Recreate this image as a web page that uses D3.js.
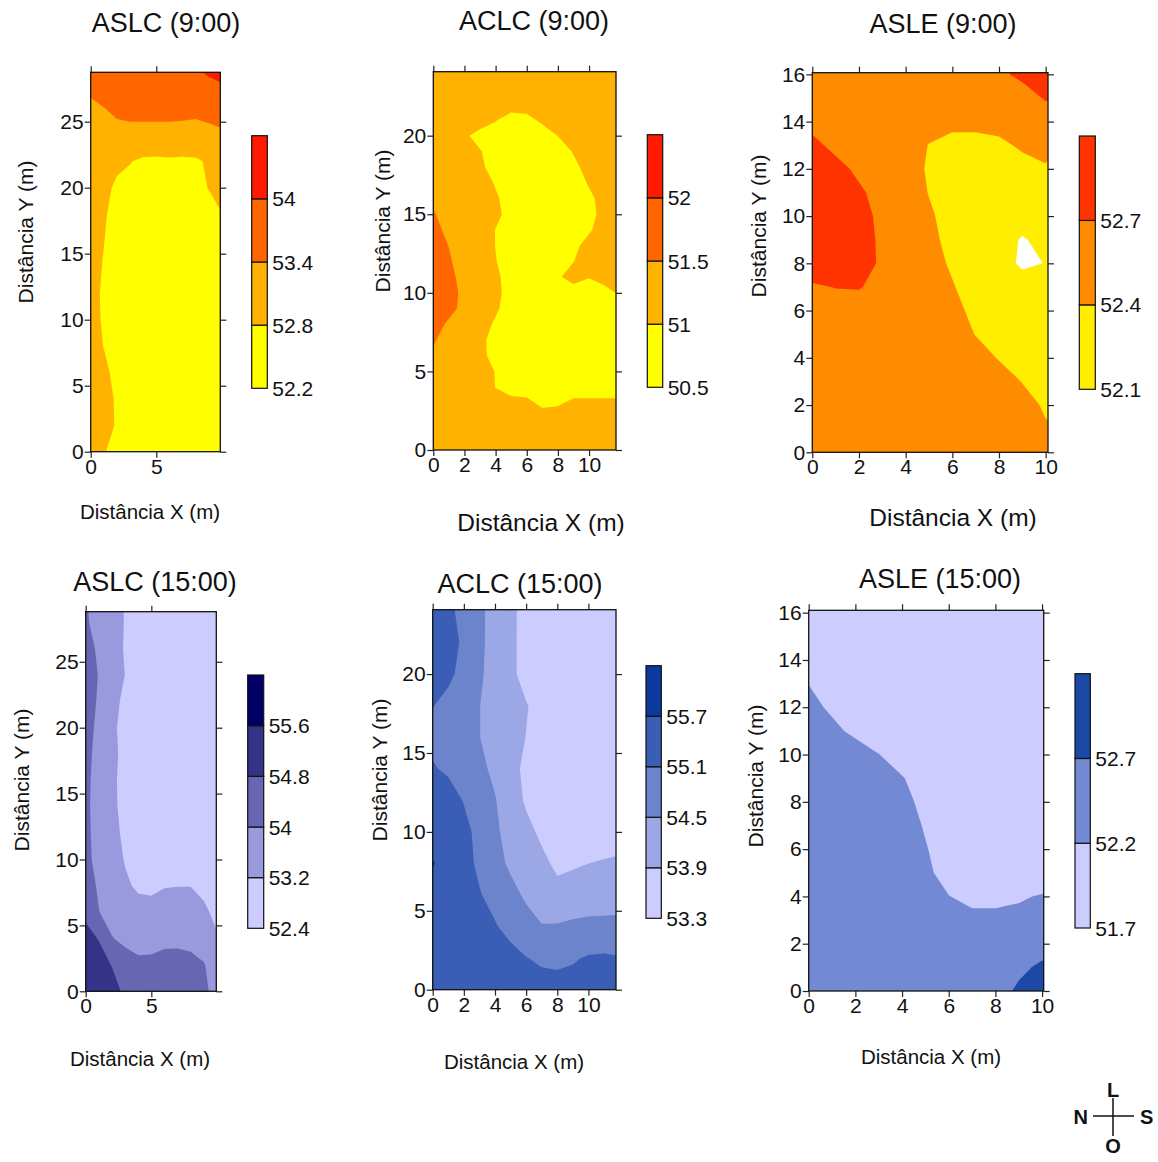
<!DOCTYPE html>
<html>
<head>
<meta charset="utf-8">
<script src="https://cdn.jsdelivr.net/npm/d3@7"></script>
<style>
  body { margin: 0; background: #fff; }
  text { font-family: "Liberation Sans", Arial, sans-serif; fill: #111; }
</style>
</head>
<body>
<div id="chart"></div>
<script>
// ---------- data (grid values) ----------

// ASLC 9:00  (rows = y, cols = x)
var aslc9X = [0, 1, 2, 3, 4, 5, 6, 7, 8, 9, 10];
var aslc9Y = [0, 2, 4, 6, 8, 10, 12, 14, 16, 18, 20, 22, 24, 26, 28, 30];
var aslc9Z = [
  [53.00, 52.83, 52.65, 52.55, 52.50, 52.48, 52.48, 52.50, 52.52, 52.55, 52.58],
  [53.10, 52.96, 52.76, 52.62, 52.55, 52.50, 52.50, 52.50, 52.52, 52.55, 52.58],
  [53.10, 52.95, 52.75, 52.62, 52.55, 52.50, 52.48, 52.48, 52.50, 52.55, 52.58],
  [53.05, 52.89, 52.69, 52.58, 52.52, 52.48, 52.46, 52.46, 52.50, 52.55, 52.60],
  [52.98, 52.79, 52.62, 52.55, 52.50, 52.46, 52.45, 52.46, 52.50, 52.55, 52.60],
  [52.95, 52.75, 52.60, 52.52, 52.48, 52.45, 52.45, 52.46, 52.50, 52.55, 52.62],
  [52.94, 52.74, 52.60, 52.52, 52.48, 52.45, 52.45, 52.46, 52.50, 52.56, 52.64],
  [52.97, 52.77, 52.62, 52.54, 52.50, 52.47, 52.46, 52.48, 52.52, 52.58, 52.66],
  [53.00, 52.81, 52.61, 52.56, 52.52, 52.50, 52.48, 52.50, 52.55, 52.62, 52.72],
  [53.05, 52.85, 52.65, 52.60, 52.56, 52.54, 52.52, 52.55, 52.60, 52.70, 52.79],
  [53.10, 52.92, 52.72, 52.66, 52.62, 52.60, 52.60, 52.64, 52.72, 52.81, 52.95],
  [53.10, 53.00, 52.90, 52.82, 52.72, 52.70, 52.72, 52.71, 52.73, 52.86, 53.05],
  [53.15, 53.20, 53.28, 53.25, 53.25, 53.25, 53.27, 53.24, 53.22, 53.28, 53.33],
  [53.30, 53.39, 53.48, 53.55, 53.55, 53.55, 53.53, 53.54, 53.52, 53.55, 53.60],
  [53.55, 53.60, 53.65, 53.70, 53.70, 53.70, 53.70, 53.70, 53.75, 53.90, 54.02],
  [53.70, 53.75, 53.80, 53.85, 53.85, 53.85, 53.85, 53.90, 54.20, 54.40, 54.30]
];
var aslc9Levels = [52.2, 52.8, 53.4, 54];
var aslc9XTicks = [0, 5];
var aslc9YTicks = [0, 5, 10, 15, 20, 25];

// ACLC 9:00
var aclc9X = [0, 1, 2, 3, 4, 5, 6, 7, 8, 9, 10, 11, 12];
var aclc9Y = [0, 1, 2, 3, 4, 5, 6, 7, 8, 9, 10, 11, 12, 13, 14, 15, 16, 17, 18, 19, 20, 21, 22, 23, 24];
var aclc9Z = [
  [51.30, 51.25, 51.25, 51.25, 51.25, 51.25, 51.25, 51.25, 51.25, 51.25, 51.25, 51.25, 51.25],
  [51.30, 51.25, 51.25, 51.25, 51.25, 51.25, 51.25, 51.25, 51.25, 51.25, 51.25, 51.25, 51.25],
  [51.30, 51.25, 51.25, 51.25, 51.25, 51.25, 51.25, 51.25, 51.25, 51.25, 51.25, 51.25, 51.25],
  [51.30, 51.25, 51.25, 51.25, 51.15, 51.15, 51.13, 50.88, 50.93, 51.10, 51.10, 51.10, 51.10],
  [51.35, 51.25, 51.25, 51.24, 50.99, 50.80, 50.75, 50.75, 50.75, 50.75, 50.75, 50.75, 50.75],
  [51.35, 51.25, 51.25, 51.25, 50.98, 50.75, 50.75, 50.75, 50.75, 50.75, 50.75, 50.75, 50.75],
  [51.40, 51.25, 51.25, 51.11, 50.86, 50.75, 50.75, 50.75, 50.75, 50.75, 50.75, 50.75, 50.75],
  [51.55, 51.30, 51.25, 51.10, 50.85, 50.75, 50.75, 50.75, 50.75, 50.75, 50.75, 50.75, 50.75],
  [51.68, 51.43, 51.25, 51.19, 50.94, 50.75, 50.75, 50.75, 50.75, 50.75, 50.75, 50.75, 50.75],
  [51.88, 51.63, 51.38, 51.25, 51.06, 50.81, 50.75, 50.75, 50.75, 50.75, 50.75, 50.75, 50.75],
  [52.02, 51.65, 51.40, 51.25, 51.10, 50.85, 50.75, 50.75, 50.75, 50.75, 50.75, 50.83, 51.08],
  [51.86, 51.61, 51.36, 51.25, 51.08, 50.83, 50.75, 50.75, 50.94, 51.19, 51.02, 51.20, 51.25],
  [51.80, 51.55, 51.30, 51.25, 51.02, 50.77, 50.75, 50.75, 50.75, 50.99, 51.25, 51.25, 51.25],
  [51.74, 51.49, 51.25, 51.25, 50.99, 50.75, 50.75, 50.75, 50.75, 50.90, 51.15, 51.25, 51.25],
  [51.64, 51.39, 51.25, 51.24, 50.99, 50.75, 50.75, 50.75, 50.75, 50.75, 50.95, 51.20, 51.25],
  [51.54, 51.29, 51.25, 51.25, 51.10, 50.85, 50.75, 50.75, 50.75, 50.75, 50.88, 51.13, 51.25],
  [51.42, 51.27, 51.25, 51.25, 51.06, 50.81, 50.75, 50.75, 50.75, 50.75, 50.91, 51.16, 51.25],
  [51.30, 51.25, 51.25, 51.21, 50.96, 50.75, 50.75, 50.75, 50.75, 50.79, 51.04, 51.25, 51.25],
  [51.30, 51.25, 51.25, 51.08, 50.83, 50.75, 50.75, 50.75, 50.75, 50.90, 51.15, 51.25, 51.25],
  [51.30, 51.25, 51.25, 51.03, 50.78, 50.75, 50.75, 50.75, 50.78, 51.03, 51.25, 51.25, 51.25],
  [51.30, 51.25, 51.08, 50.83, 50.75, 50.75, 50.75, 50.76, 51.01, 51.25, 51.25, 51.25, 51.25],
  [51.30, 51.25, 51.25, 51.25, 51.03, 50.78, 50.85, 51.10, 51.25, 51.25, 51.25, 51.25, 51.25],
  [51.30, 51.25, 51.25, 51.25, 51.25, 51.25, 51.25, 51.25, 51.25, 51.25, 51.25, 51.25, 51.25],
  [51.30, 51.25, 51.25, 51.25, 51.25, 51.25, 51.25, 51.25, 51.25, 51.25, 51.25, 51.25, 51.25],
  [51.30, 51.25, 51.25, 51.25, 51.25, 51.25, 51.25, 51.25, 51.25, 51.25, 51.25, 51.25, 51.25]
];
var aclc9Levels = [50.5, 51, 51.5, 52];
var aclc9XTicks = [0, 2, 4, 6, 8, 10];
var aclc9YTicks = [0, 5, 10, 15, 20];

// ASLE 9:00
var asle9X = [0, 1, 2, 3, 4, 5, 6, 7, 8, 9, 10];
var asle9Y = [0, 1, 2, 3, 4, 5, 6, 7, 8, 9, 10, 11, 12, 13, 14, 15, 16];
var asle9Z = [
  [52.55, 52.55, 52.55, 52.55, 52.55, 52.55, 52.55, 52.55, 52.55, 52.55, 52.50],
  [52.55, 52.55, 52.55, 52.55, 52.55, 52.55, 52.55, 52.55, 52.55, 52.52, 52.43],
  [52.55, 52.55, 52.55, 52.55, 52.55, 52.55, 52.55, 52.55, 52.55, 52.51, 52.36],
  [52.55, 52.55, 52.55, 52.55, 52.55, 52.55, 52.55, 52.55, 52.54, 52.39, 52.25],
  [52.55, 52.55, 52.55, 52.55, 52.55, 52.55, 52.55, 52.53, 52.38, 52.25, 52.25],
  [52.55, 52.55, 52.55, 52.55, 52.55, 52.55, 52.55, 52.39, 52.25, 52.25, 52.25],
  [52.55, 52.55, 52.55, 52.55, 52.55, 52.55, 52.48, 52.33, 52.25, 52.25, 52.25],
  [52.66, 52.71, 52.72, 52.60, 52.55, 52.55, 52.42, 52.27, 52.25, 52.30, 52.25],
  [52.90, 52.90, 52.81, 52.66, 52.55, 52.51, 52.36, 52.25, 52.28, 52.03, 52.11],
  [52.90, 52.90, 52.84, 52.64, 52.55, 52.47, 52.32, 52.25, 52.25, 52.07, 52.20],
  [52.90, 52.90, 52.82, 52.62, 52.55, 52.44, 52.29, 52.25, 52.25, 52.25, 52.25],
  [52.90, 52.90, 52.76, 52.56, 52.55, 52.39, 52.25, 52.25, 52.25, 52.25, 52.25],
  [52.90, 52.82, 52.62, 52.55, 52.52, 52.37, 52.25, 52.25, 52.25, 52.28, 52.37],
  [52.80, 52.60, 52.55, 52.55, 52.55, 52.39, 52.28, 52.28, 52.33, 52.45, 52.50],
  [52.58, 52.55, 52.55, 52.55, 52.55, 52.52, 52.50, 52.50, 52.52, 52.55, 52.58],
  [52.55, 52.55, 52.55, 52.55, 52.55, 52.55, 52.55, 52.55, 52.55, 52.60, 52.72],
  [52.55, 52.55, 52.55, 52.55, 52.55, 52.55, 52.55, 52.55, 52.66, 52.75, 52.85]
];
var asle9Levels = [52.1, 52.4, 52.7];
var asle9XTicks = [0, 2, 4, 6, 8, 10];
var asle9YTicks = [0, 2, 4, 6, 8, 10, 12, 14, 16];

// ASLC 15:00
var aslc15X = [0, 1, 2, 3, 4, 5, 6, 7, 8, 9, 10];
var aslc15Y = [0, 2, 4, 6, 8, 10, 12, 14, 16, 18, 20, 22, 24, 26, 28, 30];
var aslc15Z = [
  [55.30, 55.20, 55.00, 54.70, 54.60, 54.60, 54.60, 54.60, 54.50, 54.15, 53.75],
  [55.10, 55.00, 54.78, 54.40, 54.20, 54.20, 54.30, 54.30, 54.20, 54.05, 53.60],
  [54.95, 54.78, 54.04, 53.80, 53.65, 53.70, 53.80, 53.82, 53.80, 53.60, 53.28],
  [54.70, 54.02, 53.70, 53.50, 53.45, 53.45, 53.50, 53.50, 53.50, 53.35, 53.00],
  [54.35, 53.90, 53.55, 53.30, 53.10, 53.05, 53.17, 53.19, 53.19, 53.00, 52.80],
  [54.15, 53.82, 53.49, 53.16, 52.82, 52.80, 52.80, 52.80, 52.80, 52.80, 52.80],
  [54.14, 53.78, 53.42, 53.06, 52.80, 52.80, 52.80, 52.80, 52.80, 52.80, 52.80],
  [54.13, 53.74, 53.36, 52.98, 52.80, 52.80, 52.80, 52.80, 52.80, 52.80, 52.80],
  [54.15, 53.75, 53.35, 52.95, 52.80, 52.80, 52.80, 52.80, 52.80, 52.80, 52.80],
  [54.19, 53.79, 53.39, 52.99, 52.80, 52.80, 52.80, 52.80, 52.80, 52.80, 52.80],
  [54.28, 53.83, 53.37, 52.92, 52.80, 52.80, 52.80, 52.80, 52.80, 52.80, 52.80],
  [54.36, 53.91, 53.47, 53.02, 52.80, 52.80, 52.80, 52.80, 52.80, 52.80, 52.80],
  [54.36, 53.97, 53.58, 53.19, 52.80, 52.80, 52.80, 52.80, 52.80, 52.80, 52.80],
  [54.26, 53.89, 53.52, 53.14, 52.80, 52.80, 52.80, 52.80, 52.80, 52.80, 52.80],
  [54.08, 53.77, 53.47, 53.17, 52.87, 52.80, 52.80, 52.80, 52.80, 52.80, 52.80],
  [54.04, 53.75, 53.46, 53.17, 52.88, 52.80, 52.80, 52.80, 52.80, 52.80, 52.80]
];
var aslc15Levels = [52.4, 53.2, 54, 54.8, 55.6];
var aslc15XTicks = [0, 5];
var aslc15YTicks = [0, 5, 10, 15, 20, 25];

// ACLC 15:00
var aclc15X = [0, 1, 2, 3, 4, 5, 6, 7, 8, 9, 10, 11, 12];
var aclc15Y = [0, 2, 4, 6, 8, 10, 12, 14, 16, 18, 20, 22, 24];
var aclc15Z = [
  [55.50, 55.50, 55.50, 55.50, 55.45, 55.40, 55.40, 55.35, 55.35, 55.30, 55.30, 55.30, 55.30],
  [55.50, 55.50, 55.50, 55.45, 55.40, 55.30, 55.12, 55.00, 54.95, 55.05, 55.15, 55.18, 55.13],
  [55.50, 55.50, 55.45, 55.30, 55.15, 54.90, 54.70, 54.53, 54.55, 54.62, 54.64, 54.63, 54.63],
  [55.40, 55.40, 55.37, 55.14, 54.90, 54.66, 54.42, 54.20, 54.05, 54.10, 54.20, 54.25, 54.28],
  [55.75, 55.40, 55.30, 54.99, 54.68, 54.41, 54.21, 54.02, 53.80, 53.85, 53.90, 53.95, 54.00],
  [55.40, 55.40, 55.27, 54.93, 54.59, 54.31, 54.05, 53.80, 53.60, 53.60, 53.60, 53.60, 53.60],
  [55.50, 55.35, 55.07, 54.80, 54.53, 54.18, 53.83, 53.60, 53.60, 53.60, 53.60, 53.60, 53.60],
  [55.15, 55.01, 54.81, 54.62, 54.39, 54.08, 53.78, 53.60, 53.60, 53.60, 53.60, 53.60, 53.60],
  [54.95, 54.80, 54.66, 54.51, 54.31, 54.11, 53.89, 53.69, 53.60, 53.60, 53.60, 53.60, 53.60],
  [55.12, 54.92, 54.72, 54.51, 54.31, 54.12, 53.93, 53.73, 53.60, 53.60, 53.60, 53.60, 53.60],
  [55.55, 55.23, 54.91, 54.58, 54.29, 54.01, 53.73, 53.60, 53.60, 53.60, 53.60, 53.60, 53.60],
  [55.50, 55.36, 54.99, 54.61, 54.30, 54.01, 53.73, 53.60, 53.60, 53.60, 53.60, 53.60, 53.60],
  [55.54, 55.23, 54.92, 54.61, 54.31, 54.02, 53.72, 53.60, 53.60, 53.60, 53.60, 53.60, 53.60]
];
var aclc15Levels = [53.3, 53.9, 54.5, 55.1, 55.7];
var aclc15XTicks = [0, 2, 4, 6, 8, 10];
var aclc15YTicks = [0, 5, 10, 15, 20];

// ASLE 15:00
var asle15X = [0, 1, 2, 3, 4, 5, 6, 7, 8, 9, 10];
var asle15Y = [0, 1, 2, 3, 4, 5, 6, 7, 8, 9, 10, 11, 12, 13, 14, 15, 16];
var asle15Z = [
  [52.45, 52.45, 52.45, 52.45, 52.45, 52.45, 52.45, 52.45, 52.50, 52.78, 52.95],
  [52.45, 52.45, 52.45, 52.45, 52.45, 52.45, 52.45, 52.45, 52.45, 52.60, 52.78],
  [52.45, 52.45, 52.45, 52.45, 52.45, 52.45, 52.45, 52.45, 52.45, 52.45, 52.50],
  [52.45, 52.45, 52.45, 52.45, 52.45, 52.45, 52.35, 52.30, 52.30, 52.30, 52.30],
  [52.45, 52.45, 52.45, 52.45, 52.45, 52.40, 52.21, 52.10, 52.10, 52.16, 52.23],
  [52.45, 52.45, 52.45, 52.45, 52.45, 52.29, 52.04, 51.95, 51.95, 51.95, 51.95],
  [52.45, 52.45, 52.45, 52.45, 52.45, 52.23, 51.98, 51.95, 51.95, 51.95, 51.95],
  [52.45, 52.45, 52.45, 52.45, 52.41, 52.16, 51.95, 51.95, 51.95, 51.95, 51.95],
  [52.45, 52.45, 52.45, 52.45, 52.33, 52.08, 51.95, 51.95, 51.95, 51.95, 51.95],
  [52.45, 52.45, 52.45, 52.45, 52.23, 51.98, 51.95, 51.95, 51.95, 51.95, 51.95],
  [52.45, 52.45, 52.45, 52.21, 51.96, 51.95, 51.95, 51.95, 51.95, 51.95, 51.95],
  [52.45, 52.33, 52.08, 51.95, 51.95, 51.95, 51.95, 51.95, 51.95, 51.95, 51.95],
  [52.36, 52.11, 51.95, 51.95, 51.95, 51.95, 51.95, 51.95, 51.95, 51.95, 51.95],
  [52.19, 52.00, 51.95, 51.95, 51.95, 51.95, 51.95, 51.95, 51.95, 51.95, 51.95],
  [51.95, 51.95, 51.95, 51.95, 51.95, 51.95, 51.95, 51.95, 51.95, 51.95, 51.95],
  [51.95, 51.95, 51.95, 51.95, 51.95, 51.95, 51.95, 51.95, 51.95, 51.95, 51.95],
  [51.95, 51.95, 51.95, 51.95, 51.95, 51.95, 51.95, 51.95, 51.95, 51.95, 51.95]
];
var asle15Levels = [51.7, 52.2, 52.7];
var asle15XTicks = [0, 2, 4, 6, 8, 10];
var asle15YTicks = [0, 2, 4, 6, 8, 10, 12, 14, 16];

// colour ramps
var warmColors = ["#FFFF00", "#FFB300", "#FF6600", "#FF1A00"];
var asle9Colors = ["#FFEE00", "#FF8C00", "#FF3300"];
var aslc15Colors = ["#CCCCFF", "#9999DD", "#6666B3", "#333388", "#000066"];
var aclc15Colors = ["#CCCCFF", "#9CA8E6", "#6B84CC", "#3A5DB5", "#0A3A9E"];
var asle15Colors = ["#CCCCFF", "#7489D3", "#1C48A6"];

// ---------- layout ----------
var W = 1158, H = 1162;
var svg = d3.select("#chart").append("svg")
  .attr("width", W)
  .attr("height", H);

var panels = [
  {key: "aslc9", title: "ASLC (9:00)", xs: aslc9X, ys: aslc9Y, z: aslc9Z, levels: aslc9Levels, colors: warmColors,
   xTicks: aslc9XTicks, yTicks: aslc9YTicks,
   box: {left: 90.7, right: 220.3, top: 72.3, bottom: 451.7}, xMax: 9.88, yMax: 28.74,
   cb: {left: 251.7, right: 267.3, top: 135.7, bottom: 388.3},
   titlePos: [166, 32], xTitle: [150, 519, 20.5], yTitle: [33, 232, 21]},
  {key: "aclc9", title: "ACLC (9:00)", xs: aclc9X, ys: aclc9Y, z: aclc9Z, levels: aclc9Levels, colors: warmColors,
   xTicks: aclc9XTicks, yTicks: aclc9YTicks,
   box: {left: 433.3, right: 616, top: 71.7, bottom: 450}, xMax: 11.73, yMax: 24.07,
   cb: {left: 647.3, right: 662.7, top: 134.7, bottom: 387.3},
   titlePos: [534, 30], xTitle: [541, 531, 24.5], yTitle: [390, 221, 21]},
  {key: "asle9", title: "ASLE (9:00)", xs: asle9X, ys: asle9Y, z: asle9Z, levels: asle9Levels, colors: asle9Colors,
   xTicks: asle9XTicks, yTicks: asle9YTicks,
   box: {left: 812.3, right: 1048, top: 72.7, bottom: 452.3}, xMax: 10.1, yMax: 16.07,
   cb: {left: 1079.3, right: 1095.3, top: 136, bottom: 389.3},
   titlePos: [943, 33], xTitle: [953, 526, 24.5], yTitle: [766, 226, 21]},
  {key: "aslc15", title: "ASLC (15:00)", xs: aslc15X, ys: aslc15Y, z: aslc15Z, levels: aslc15Levels, colors: aslc15Colors,
   xTicks: aslc15XTicks, yTicks: aslc15YTicks,
   box: {left: 85.7, right: 216.3, top: 611.7, bottom: 991.3}, xMax: 9.95, yMax: 28.8,
   cb: {left: 247.7, right: 263.7, top: 675, bottom: 928.3},
   titlePos: [155, 591], xTitle: [140, 1066, 20.5], yTitle: [29, 780, 21]},
  {key: "aclc15", title: "ACLC (15:00)", xs: aclc15X, ys: aclc15Y, z: aclc15Z, levels: aclc15Levels, colors: aclc15Colors,
   xTicks: aclc15XTicks, yTicks: aclc15YTicks,
   box: {left: 432.7, right: 616, top: 609.7, bottom: 989.7}, xMax: 11.77, yMax: 24.08,
   cb: {left: 646, right: 661.3, top: 665.7, bottom: 918.3},
   titlePos: [520, 593], xTitle: [514, 1069, 20.5], yTitle: [387, 770, 21]},
  {key: "asle15", title: "ASLE (15:00)", xs: asle15X, ys: asle15Y, z: asle15Z, levels: asle15Levels, colors: asle15Colors,
   xTicks: asle15XTicks, yTicks: asle15YTicks,
   box: {left: 808.7, right: 1043.7, top: 610.3, bottom: 991}, xMax: 10.07, yMax: 16.1,
   cb: {left: 1075, right: 1090.3, top: 673.7, bottom: 928},
   titlePos: [940, 588], xTitle: [931, 1064, 20.5], yTitle: [763, 776, 21]}
];

function drawPanel(p) {
  var b = p.box;
  var g = svg.append("g").attr("class", "panel-" + p.key);

  var x = d3.scaleLinear().domain([0, p.xMax]).range([b.left, b.right]);
  var y = d3.scaleLinear().domain([0, p.yMax]).range([b.bottom, b.top]);

  // grid index -> data units (d3.contours puts sample i at i + 0.5)
  var nx = p.xs.length, ny = p.ys.length;
  var gx = d3.scaleLinear().domain([0.5, nx - 0.5]).range([p.xs[0], p.xs[nx - 1]]);
  var gy = d3.scaleLinear().domain([0.5, ny - 0.5]).range([p.ys[0], p.ys[ny - 1]]);
  var path = d3.geoPath(d3.geoTransform({
    point: function(px, py) { this.stream.point(x(gx(px)), y(gy(py))); }
  }));

  var bands = d3.contours()
    .size([nx, ny])
    .thresholds(p.levels)(p.z.flat());

  svg.append("clipPath").attr("id", "clip-" + p.key)
    .append("rect")
      .attr("x", b.left).attr("y", b.top)
      .attr("width", b.right - b.left).attr("height", b.bottom - b.top);

  g.append("rect")
    .attr("x", b.left).attr("y", b.top)
    .attr("width", b.right - b.left).attr("height", b.bottom - b.top)
    .attr("fill", "#fff");

  g.append("g")
    .attr("clip-path", "url(#clip-" + p.key + ")")
    .selectAll("path")
    .data(bands)
    .join("path")
      .attr("d", path)
      .attr("fill", function(d, i) { return p.colors[i]; });

  // axes: labelled left/bottom, mirrored ticks top/right
  var axL = g.append("g").attr("transform", "translate(" + b.left + ",0)")
    .call(d3.axisLeft(y).tickValues(p.yTicks).tickSize(6).tickPadding(1).tickSizeOuter(0));
  var axB = g.append("g").attr("transform", "translate(0," + b.bottom + ")")
    .call(d3.axisBottom(x).tickValues(p.xTicks).tickSize(6).tickPadding(1).tickSizeOuter(0));
  var axT = g.append("g").attr("transform", "translate(0," + b.top + ")")
    .call(d3.axisTop(x).tickValues(p.xTicks).tickSize(6).tickFormat("").tickSizeOuter(0));
  var axR = g.append("g").attr("transform", "translate(" + b.right + ",0)")
    .call(d3.axisRight(y).tickValues(p.yTicks).tickSize(6).tickFormat("").tickSizeOuter(0));
  [axL, axB, axT, axR].forEach(function(a) {
    a.select(".domain").remove();
    a.selectAll("line").attr("stroke", "#222").attr("stroke-width", 1.2);
    a.selectAll("text").attr("font-size", 21).attr("fill", "#111")
      .attr("font-family", "Liberation Sans, Arial, sans-serif");
  });

  g.append("rect")
    .attr("x", b.left).attr("y", b.top)
    .attr("width", b.right - b.left).attr("height", b.bottom - b.top)
    .attr("fill", "none").attr("stroke", "#111").attr("stroke-width", 1.3);

  // colour bar
  var c = p.cb, nSeg = p.levels.length;
  var cy = d3.scaleLinear().domain([0, nSeg]).range([c.bottom, c.top]);
  g.append("g").selectAll("rect")
    .data(p.levels)
    .join("rect")
      .attr("x", c.left)
      .attr("y", function(d, i) { return cy(i + 1); })
      .attr("width", c.right - c.left)
      .attr("height", function(d, i) { return cy(i) - cy(i + 1); })
      .attr("fill", function(d, i) { return p.colors[i]; })
      .attr("stroke", "#111")
      .attr("stroke-width", 1.2);
  g.append("g").selectAll("text")
    .data(p.levels)
    .join("text")
      .attr("x", c.right + 5)
      .attr("y", function(d, i) { return cy(i); })
      .attr("dy", "0.36em")
      .attr("font-size", 21)
      .text(function(d) { return String(d); });

  // titles
  g.append("text")
    .attr("x", p.titlePos[0]).attr("y", p.titlePos[1])
    .attr("text-anchor", "middle")
    .attr("font-size", 27)
    .text(p.title);
  g.append("text")
    .attr("x", p.xTitle[0]).attr("y", p.xTitle[1])
    .attr("text-anchor", "middle")
    .attr("font-size", p.xTitle[2])
    .text("Distância X (m)");
  g.append("text")
    .attr("transform", "translate(" + p.yTitle[0] + "," + p.yTitle[1] + ") rotate(-90)")
    .attr("text-anchor", "middle")
    .attr("font-size", p.yTitle[2])
    .text("Distância Y (m)");
}

panels.forEach(drawPanel);

// compass
var compass = svg.append("g").attr("transform", "translate(1113,1116)");
compass.append("line").attr("x1", -20).attr("x2", 21).attr("y1", 0).attr("y2", 0)
  .attr("stroke", "#111").attr("stroke-width", 1.5);
compass.append("line").attr("x1", 0).attr("x2", 0).attr("y1", -18).attr("y2", 20)
  .attr("stroke", "#111").attr("stroke-width", 1.5);
var compassLabels = [
  {t: "L", x: 0, y: -19, a: "middle"},
  {t: "N", x: -25, y: 8, a: "end"},
  {t: "S", x: 27, y: 8, a: "start"},
  {t: "O", x: 0, y: 37, a: "middle"}
];
compass.selectAll("text.cl")
  .data(compassLabels)
  .join("text")
    .attr("class", "cl")
    .attr("x", function(d) { return d.x; })
    .attr("y", function(d) { return d.y; })
    .attr("text-anchor", function(d) { return d.a; })
    .attr("font-size", 20)
    .attr("font-weight", "bold")
    .text(function(d) { return d.t; });
</script>
</body>
</html>
